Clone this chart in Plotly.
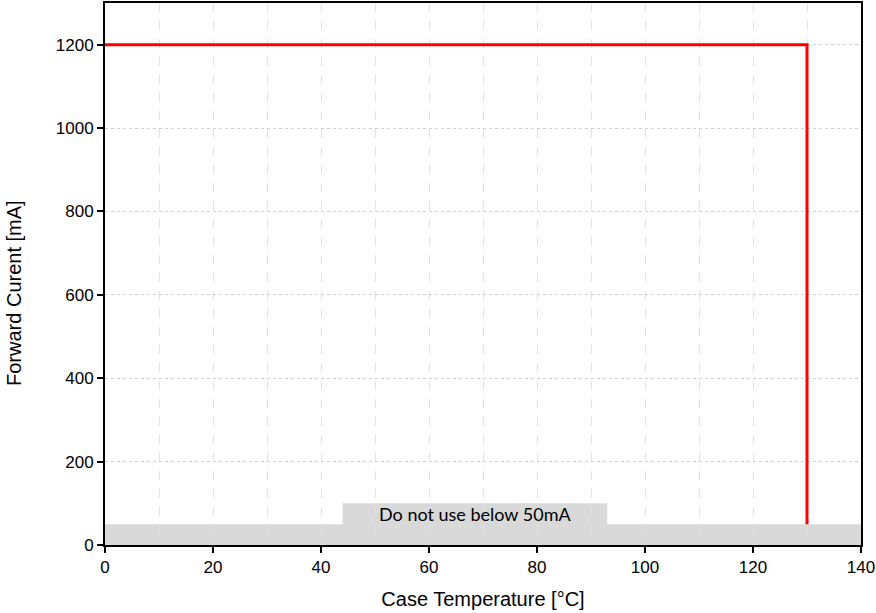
import plotly.graph_objects as go

temp = [0, 130, 130]
current = [1200, 1200, 50]
band_limit = 50
note_box_x = [44, 93]
note_box_top = 100
note_text = "Do not use below 50mA"
y_title = "Forward Curent [mA]"
x_title = "Case Temperature [°C]"

fig = go.Figure()

fig.add_shape(type="rect", x0=0, x1=140, y0=0, y1=band_limit,
              fillcolor="#d9d9d9", line_width=0, layer="below")
fig.add_shape(type="rect", x0=note_box_x[0], x1=note_box_x[1], y0=0, y1=note_box_top,
              fillcolor="#d9d9d9", line_width=0, layer="below")

fig.add_trace(go.Scatter(x=temp, y=current, mode="lines",
                         line=dict(color="#ff0000", width=3), showlegend=False))

fig.add_annotation(x=(note_box_x[0] + note_box_x[1]) / 2, y=74, text=note_text,
                   showarrow=False, font=dict(family="Lato", size=18, color="#000"))

fig.add_annotation(xref="paper", yref="paper", x=0, y=0.465, xshift=-91,
                   xanchor="center", yanchor="middle", textangle=-90,
                   text=y_title, showarrow=False, font=dict(size=20, color="#000"))

fig.update_layout(
    width=876, height=613,
    margin=dict(l=105, r=15, t=1, b=68),
    paper_bgcolor="white", plot_bgcolor="white",
    font=dict(family="Liberation Sans, Arial", size=17, color="#000"),
    xaxis=dict(range=[0, 140], dtick=20, tick0=0,
               showline=True, linecolor="black", linewidth=2, mirror=True,
               ticks="outside", ticklen=6, tickwidth=2, tickcolor="black",
               showgrid=True, gridcolor="#e2e2e2", griddash="dash", gridwidth=1,
               minor=dict(dtick=10, showgrid=True, gridcolor="#e2e2e2", griddash="dash", gridwidth=1),
               zeroline=False,
               title=dict(text=x_title, font=dict(size=20), standoff=16)),
    yaxis=dict(range=[0, 1300], dtick=200, tick0=0,
               showline=True, linecolor="black", linewidth=2, mirror=True,
               ticks="outside", ticklen=6, tickwidth=2, tickcolor="black",
               showgrid=True, gridcolor="#d0d0d0", griddash="dot", gridwidth=1,
               zeroline=False),
)

fig.write_html("out.html", config={"displayModeBar": False},
               post_script="document.body.style.margin='0';document.body.style.overflow='hidden';")
